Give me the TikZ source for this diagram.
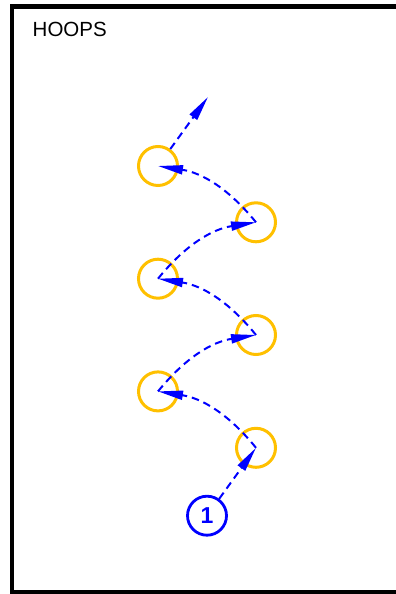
\documentclass[tikz,border=0pt]{standalone}
\usepackage{fontspec}
\setmainfont{Liberation Sans}
\usepackage{tikz}
\usetikzlibrary{arrows.meta, positioning}

\definecolor{hoopyellow}{RGB}{255,192,0}

\begin{document}
\begin{tikzpicture}[
    x=1pt, y=1pt,
    >={Triangle[length=25pt, width=9pt]},
    hoopnode/.style={circle, draw=hoopyellow, line width=3pt, minimum size=39pt, inner sep=0pt},
    tagnode/.style={circle, draw=blue, text=blue, line width=2.8pt, minimum size=39pt, inner sep=0pt, font=\fontsize{23}{23}\selectfont\bfseries},
    pathline/.style={->, blue, line width=2pt, dash pattern=on 7.5pt off 5pt},
    framebox/.style={draw=black, line width=4.5pt}
  ]

  \useasboundingbox (0,0) rectangle (396,594);
  \clip (0,0) rectangle (396,594);

  % Sheet frame and title
  \draw[framebox] (12,587.3) rectangle (430,1.5);
  \node[anchor=base west, inner sep=0pt, font=\fontsize{20.5}{20.5}\selectfont] (title) at (32.5,557.3) {HOOPS};

  % Hoops
  \node[hoopnode] (c1) at (158,428) {};
  \node[hoopnode] (c2) at (256,371.7) {};
  \node[hoopnode] (c3) at (158,315.3) {};
  \node[hoopnode] (c4) at (256,259) {};
  \node[hoopnode] (c5) at (158,202.6) {};
  \node[hoopnode] (c6) at (256,146.2) {};

  % Start tag
  \node[tagnode] (start) at (207,78.3) {1};
  \coordinate (exit) at (208,497);

  % Run through the hoops
  \draw[pathline] (start) -- (c6.center);
  \draw[pathline] (c6.center) to[bend right=21] (c5.center);
  \draw[pathline] (c5.center) to[bend left=21] (c4.center);
  \draw[pathline] (c4.center) to[bend right=21] (c3.center);
  \draw[pathline] (c3.center) to[bend left=21] (c2.center);
  \draw[pathline] (c2.center) to[bend right=21] (c1.center);
  \draw[pathline] (c1) -- (exit);

\end{tikzpicture}
\end{document}
